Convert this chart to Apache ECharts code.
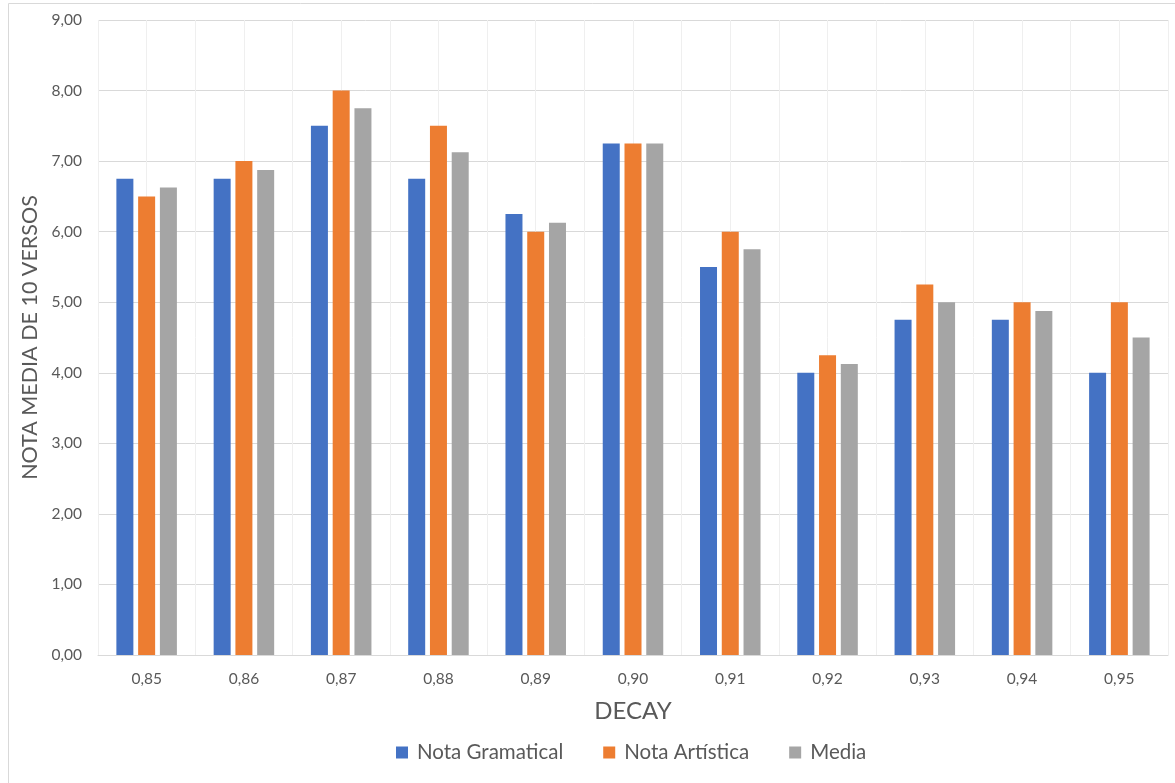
<!DOCTYPE html>
<html>
<head>
<meta charset="utf-8">
<script src="https://cdn.jsdelivr.net/npm/echarts@6/dist/echarts.min.js"></script>
<style>
  html, body { margin: 0; padding: 0; background: #ffffff; }
  #chart { width: 1175px; height: 783px; }
</style>
</head>
<body>
<div id="chart"></div>
<script>
// Decay values on the x axis
const categories = ['0,85', '0,86', '0,87', '0,88', '0,89', '0,90', '0,91', '0,92', '0,93', '0,94', '0,95'];
// Average scores over 10 verses
const notaGramatical = [6.75, 6.75, 7.5, 6.75, 6.25, 7.25, 5.5, 4.0, 4.75, 4.75, 4.0];
const notaArtistica  = [6.5, 7.0, 8.0, 7.5, 6.0, 7.25, 6.0, 4.25, 5.25, 5.0, 5.0];
const media          = [6.625, 6.875, 7.75, 7.125, 6.125, 7.25, 5.75, 4.125, 5.0, 4.875, 4.5];
const yTicks = [0, 1, 2, 3, 4, 5, 6, 7, 8, 9];

const FONT = 'Lato, "Open Sans", sans-serif';
const TEXT = '#595959';

// half-step categories, used only to draw the minor vertical grid lines
const halfCats = [];
categories.forEach(c => { halfCats.push(c + 'a'); halfCats.push(c + 'b'); });

const chart = echarts.init(document.getElementById('chart'), null, { renderer: 'canvas' });

function bar(name, data, color) {
  return {
    name: name,
    type: 'bar',
    data: data,
    barWidth: 17,
    barGap: '28%',
    itemStyle: { color: color },
    emphasis: { disabled: true }
  };
}

chart.setOption({
  animation: false,
  textStyle: { fontFamily: FONT },
  graphic: [{
    type: 'rect',
    shape: { x: 8.5, y: 3.5, width: 1200, height: 820 },
    style: { fill: 'none', stroke: '#d9d9d9', lineWidth: 1 },
    silent: true,
    z: -10
  }],
  grid: { left: 98, right: 7, top: 20, bottom: 128, containLabel: false },
  legend: {
    top: 737,
    left: 391,
    itemWidth: 12,
    itemHeight: 12,
    itemGap: 40,
    icon: 'rect',
    textStyle: { color: TEXT, fontSize: 20.5, fontFamily: FONT, padding: [0, 0, 0, 4] },
    data: ['Nota Gramatical', 'Nota Artística', 'Media']
  },
  xAxis: [{
    type: 'category',
    data: categories,
    name: 'DECAY',
    nameLocation: 'middle',
    nameGap: 44,
    nameTextStyle: { color: TEXT, fontSize: 24, fontFamily: FONT },
    axisLine: { lineStyle: { color: '#d9d9d9', width: 1 } },
    axisTick: { show: false },
    axisLabel: { color: TEXT, fontSize: 15.5, margin: 16, fontFamily: FONT },
    splitLine: { show: false }
  }, {
    type: 'category',
    data: halfCats,
    position: 'bottom',
    show: true,
    axisLine: { show: false },
    axisTick: { show: false },
    axisLabel: { show: false },
    splitLine: { show: true, lineStyle: { color: '#efefef', width: 1 } }
  }],
  yAxis: {
    type: 'value',
    min: yTicks[0],
    max: yTicks[yTicks.length - 1],
    interval: 1,
    name: 'NOTA MEDIA DE 10 VERSOS',
    nameLocation: 'middle',
    nameGap: 54,
    nameTextStyle: { color: TEXT, fontSize: 21.5, fontFamily: FONT },
    axisLine: { show: false },
    axisTick: { show: false },
    axisLabel: {
      color: TEXT, fontSize: 15.5, margin: 16, fontFamily: FONT,
      formatter: v => v.toFixed(2).replace('.', ',')
    },
    splitLine: { lineStyle: { color: '#d9d9d9', width: 1 } }
  },
  series: [
    bar('Nota Gramatical', notaGramatical, '#4472C4'),
    bar('Nota Artística', notaArtistica, '#ED7D31'),
    bar('Media', media, '#A5A5A5')
  ]
});
</script>
</body>
</html>
